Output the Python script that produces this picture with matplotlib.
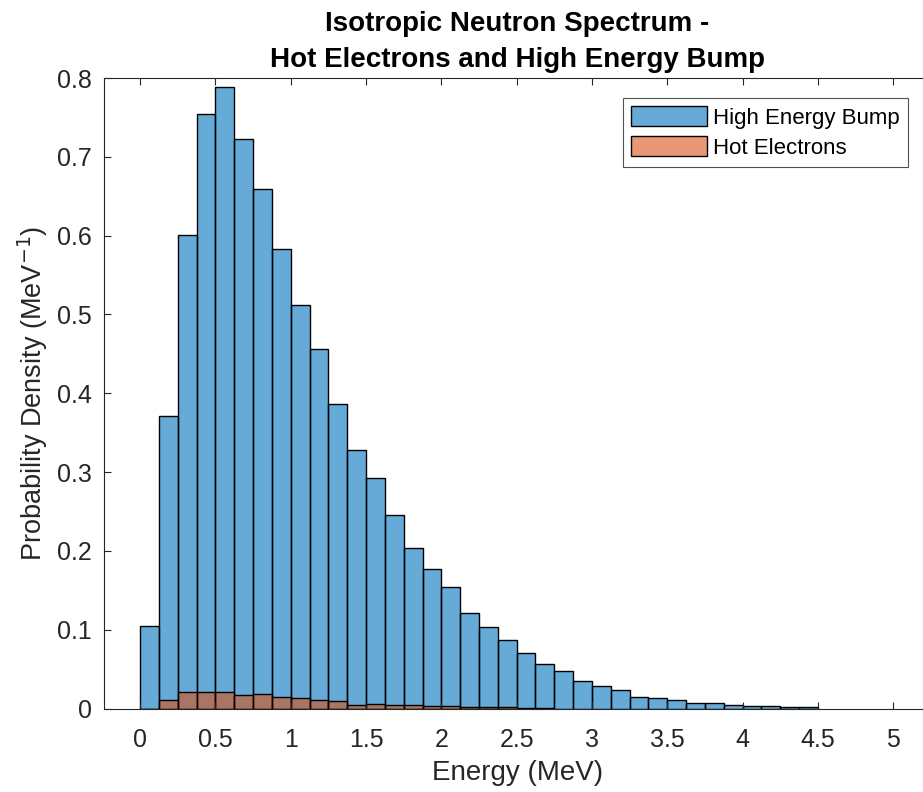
import numpy as np
import matplotlib
matplotlib.use("Agg")
import matplotlib.pyplot as plt

plt.rcParams['font.family'] = ['Liberation Sans', 'DejaVu Sans']

# bin setup (MeV)
bin_width = 0.125
bump_start = 0.0
hot_start = 0.0

# high energy bump histogram heights (MeV^-1)
bump_vals = [0.105, 0.371, 0.601, 0.754, 0.789, 0.723, 0.659, 0.583,
             0.512, 0.456, 0.386, 0.328, 0.293, 0.245, 0.204, 0.177,
             0.154, 0.121, 0.103, 0.087, 0.070, 0.057, 0.047, 0.035,
             0.029, 0.023, 0.015, 0.013, 0.011, 0.007, 0.007, 0.005,
             0.0035, 0.0035, 0.0015, 0.0015]

# hot electrons histogram heights
hot_vals = [0.0, 0.011, 0.0215, 0.0215, 0.0215, 0.017, 0.019, 0.015,
            0.013, 0.011, 0.0095, 0.004, 0.0058, 0.004, 0.004, 0.0035,
            0.0035, 0.002, 0.002, 0.0015, 0.001, 0.001]

xticks = [0, 0.5, 1, 1.5, 2, 2.5, 3, 3.5, 4, 4.5, 5]
xtick_labels = ['0', '0.5', '1', '1.5', '2', '2.5', '3', '3.5', '4', '4.5', '5']
yticks = [0, 0.1, 0.2, 0.3, 0.4, 0.5, 0.6, 0.7, 0.8]
ytick_labels = ['0', '0.1', '0.2', '0.3', '0.4', '0.5', '0.6', '0.7', '0.8']

blue = (0.0, 0.447, 0.741, 0.6)
orange = (0.85, 0.325, 0.098, 0.6)
axcol = (0.15, 0.15, 0.15)

fig = plt.figure(figsize=(9.23, 7.92), dpi=100)
ax = fig.add_axes([0.1127, 0.1054, 0.8957, 0.7961])

bump_left = bump_start + bin_width * np.arange(len(bump_vals))
hot_left = hot_start + bin_width * np.arange(len(hot_vals))

ax.bar(bump_left, bump_vals, width=bin_width, align='edge', color=blue,
       edgecolor='black', linewidth=1.0, label='High Energy Bump')
ax.bar(hot_left, hot_vals, width=bin_width, align='edge', color=orange,
       edgecolor='black', linewidth=1.0, label='Hot Electrons')

ax.set_xlim(-0.24, 5.25)
ax.set_ylim(0, 0.8)
ax.set_xticks(xticks)
ax.set_xticklabels(xtick_labels)
ax.set_yticks(yticks)
ax.set_yticklabels(ytick_labels)
ax.tick_params(direction='in', top=True, right=True, length=5, width=0.8,
               labelsize=18, colors=axcol)
ax.tick_params(axis='x', pad=14)
ax.tick_params(axis='y', pad=9)
for s in ax.spines.values():
    s.set_color(axcol)
    s.set_linewidth(0.8)

ax.set_xlabel('Energy (MeV)', fontsize=20, color=axcol, labelpad=6)
ax.set_ylabel('Probability Density (MeV$^{-1}$)', fontsize=19.5, color=axcol, labelpad=5)
ax.set_title('Isotropic Neutron Spectrum -\nHot Electrons and High Energy Bump',
             fontsize=20, fontweight='bold', color='black', pad=8, linespacing=1.5)

leg = ax.legend(loc='upper right', bbox_to_anchor=(0.9725, 0.968),
                borderaxespad=0, fancybox=False, edgecolor=axcol, fontsize=16,
                handlelength=3.4, handleheight=1.0, handletextpad=0.3,
                borderpad=0.35, labelspacing=0.35)
leg.get_frame().set_linewidth(0.8)

fig.savefig('out.png', dpi=100)
